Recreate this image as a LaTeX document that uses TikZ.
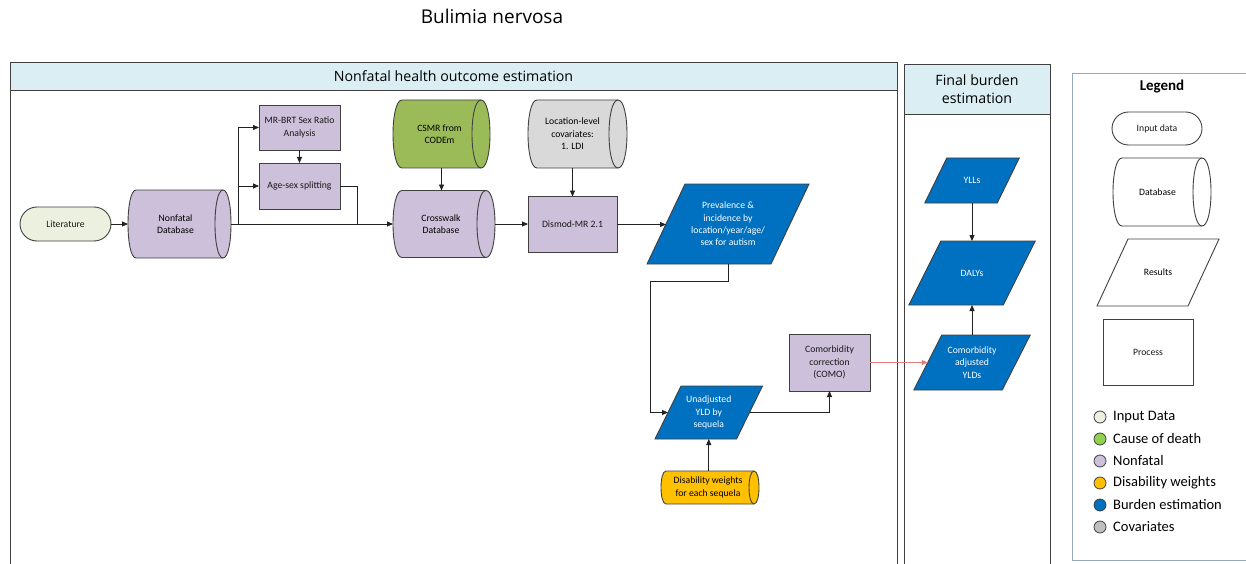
\documentclass[tikz,border=0pt]{standalone}
\usepackage{fontspec}
\setmainfont{Carlito}
\newfontfamily\headfont{Open Sans}
\usetikzlibrary{arrows.meta,calc}
\definecolor{hdr}{HTML}{DAEEF3}
\definecolor{litg}{HTML}{EBF1DE}
\definecolor{nfp}{HTML}{CCC0DA}
\definecolor{codg}{HTML}{9BBB59}
\definecolor{covg}{HTML}{D9D9D9}
\definecolor{burb}{HTML}{0070C0}
\definecolor{dwy}{HTML}{FFC000}
\definecolor{edge}{HTML}{404040}
\definecolor{lnk}{HTML}{222222}
\definecolor{redl}{HTML}{E07B7B}
\definecolor{legb}{HTML}{95A9C4}
\definecolor{cod2}{HTML}{92D050}
\definecolor{cov2}{HTML}{BFBFBF}
\tikzset{
  shapeline/.style={draw=edge, line width=0.9pt},
  proc/.style={shapeline, rectangle, align=center, inner sep=1pt, outer sep=0pt, text=black!90},
  term/.style={proc},
  hole/.style={rectangle, draw=none, inner sep=0pt, outer sep=0pt},
  lbl/.style={align=center, inner sep=0pt},
  arr/.style={draw=lnk, line width=0.8pt, -{Triangle[length=6pt,width=5pt]}},
  lnkline/.style={draw=lnk, line width=0.8pt},
  panel/.style={draw=edge, line width=0.9pt},
  dot/.style={circle, draw=edge, line width=0.8pt, minimum size=12pt, inner sep=0pt},
  legtxt/.style={anchor=west, inner sep=0pt, font=\fontsize{14.5}{17}\selectfont},
  headtxt/.style={align=center, inner sep=0pt, font=\headfont\fontsize{14.2}{18}\selectfont},
}
% name, cx, cy, w, h, r, fill, text dx, text
\newcommand\cylnode[9]{%
  \path[shapeline, fill=#7]
    ({#2-#4/2+#6},{#3-#5/2}) -- ({#2+#4/2-#6},{#3-#5/2})
    .. controls ({#2+#4/2+#6/3},{#3-#5/2}) and ({#2+#4/2+#6/3},{#3+#5/2}) .. ({#2+#4/2-#6},{#3+#5/2})
    -- ({#2-#4/2+#6},{#3+#5/2})
    .. controls ({#2-#4/2-#6/3},{#3+#5/2}) and ({#2-#4/2-#6/3},{#3-#5/2}) .. ({#2-#4/2+#6},{#3-#5/2}) -- cycle;
  \draw[shapeline] ({#2+#4/2-#6},{#3-#5/2})
    .. controls ({#2+#4/2-#6-4*#6/3},{#3-#5/2}) and ({#2+#4/2-#6-4*#6/3},{#3+#5/2}) .. ({#2+#4/2-#6},{#3+#5/2});
  \node[hole, minimum width=#4pt, minimum height=#5pt] (#1) at (#2,#3) {};
  \node[lbl] (#1-t) at ({#2+(#8)},#3) {#9};
}
% name, cx, cy, w (at mid height), h, slant, fill, text colour, text
\newcommand\paranode[9]{%
  \path[shapeline, fill=#7]
    ({#2-#4/2+#6/2},{#3-#5/2}) -- ({#2+#4/2+#6/2},{#3-#5/2})
    -- ({#2+#4/2-#6/2},{#3+#5/2}) -- ({#2-#4/2-#6/2},{#3+#5/2}) -- cycle;
  \node[hole, minimum width=#4pt, minimum height=#5pt] (#1) at (#2,#3) {};
  \node[lbl, text=#8] (#1-t) at (#2,#3) {#9};
}
\begin{document}
\begin{tikzpicture}[x=1pt, y=-1pt, font=\fontsize{9.7}{12.4}\selectfont]
\useasboundingbox (0,0) rectangle (1246,564);
\clip (0,0) rectangle (1246,564);
\fill[white] (0,0) rectangle (1246,564);

% title
\node[inner sep=0pt, font=\headfont\fontsize{19}{22}\selectfont] (title) at (492,16.5) {Bulimia nervosa};

% panels
\draw[panel] (10,62) rectangle (897,600);
\draw[panel, fill=hdr] (10,62) rectangle (897,90);
\node[headtxt] (h1) at (453.5,76) {Nonfatal health outcome estimation};
\draw[panel] (904,64) rectangle (1050,600);
\draw[panel, fill=hdr] (904,64) rectangle (1050,114);
\node[headtxt] (h2) at (977,89) {Final burden\\estimation};
\draw[draw=legb, line width=0.9pt] (1072,73) rectangle (1270,560);

% nonfatal panel nodes
\node[term, fill=litg, minimum width=91pt, minimum height=34pt, rounded corners=17pt] (lit) at (65.5,224) {Literature};
\cylnode{ndb}{179.5}{224}{103}{68}{8}{nfp}{-4}{Nonfatal\\Database}
\node[proc, fill=nfp, minimum width=81pt, minimum height=45pt] (mrbrt) at (299.5,127.5) {MR-BRT Sex Ratio\\Analysis};
\node[proc, fill=nfp, minimum width=81pt, minimum height=46pt] (asex) at (299.5,186) {Age-sex splitting};
\cylnode{csmr}{441.5}{134}{97}{68}{9}{codg}{-2}{CSMR from\\CODEm}
\cylnode{cw}{444}{224}{102}{67}{9}{nfp}{-3}{Crosswalk\\Database}
\cylnode{cov}{577.5}{134}{99}{68}{9}{covg}{-5}{Location-level\\covariates:\\1. LDI}
\node[proc, fill=nfp, minimum width=89pt, minimum height=56pt] (dismod) at (572.5,224.5) {Dismod-MR 2.1};
\paranode{prev}{728}{224}{124}{80}{38}{burb}{white}{Prevalence \&\\incidence by\\location/year/age/\\sex for autism}
\paranode{unadj}{708.75}{412.5}{81.5}{53}{26}{burb}{white}{Unadjusted\\YLD by\\sequela}
\cylnode{dw}{710}{487.5}{98}{33}{5}{dwy}{-2}{Disability weights\\for each sequela}
\node[proc, fill=nfp, minimum width=81pt, minimum height=57pt] (como) at (829.5,362.5) {Comorbidity\\correction\\(COMO)};

% final burden nodes
\paranode{ylls}{972}{180.5}{72.5}{45}{22}{burb}{white}{YLLs}
\paranode{dalys}{972}{273}{94.5}{64}{32}{burb}{white}{DALYs}
\paranode{adj}{972}{362.5}{88.5}{55}{28}{burb}{white}{Comorbidity\\adjusted\\YLDs}

% connectors
\draw[arr] (lit.east) -- (ndb.west);
\path (ndb.east) ++(7,0) coordinate (j1);
\coordinate (j2) at (357,224);
\draw[arr] (ndb.east) -- (ndb.east -| cw.west);
\draw[arr] (j1) |- (mrbrt.west);
\draw[arr] (j1 |- asex.west) -- (asex.west);
\draw[arr] (mrbrt.south) -- (asex.north);
\draw[lnkline] (asex.east) -| (j2);
\draw[arr] (csmr.south) -- (csmr.south |- cw.north);
\draw[arr] (dismod.north |- cov.south) -- (dismod.north);
\draw[arr] (cw.east) -- (cw.east -| dismod.west);
\draw[arr] (dismod.east) -- (dismod.east -| prev.west);
\coordinate (k) at (650,281);
\draw[arr] (prev.south) |- (k) |- (unadj.west);
\draw[arr] (unadj.south |- dw.north) -- (unadj.south);
\draw[arr] (unadj.east) -| (como.south);
\draw[arr, draw=redl, -{Triangle[length=6pt,width=5pt,fill=redl]}] (como.east) -- (como.east -| adj.west);
\draw[arr] (ylls.south) -- (dalys.north);
\draw[arr] (adj.north) -- (dalys.south);

% legend
\node[inner sep=0pt, font=\bfseries\fontsize{15}{18}\selectfont] (legt) at (1162,87) {Legend};
\node[term, fill=white, minimum width=90pt, minimum height=33pt, rounded corners=16.5pt] (lin) at (1157,128.5) {Input data};
\cylnode{ldb}{1162}{192}{98}{68}{9}{white}{-4.5}{Database}
\paranode{lres}{1158}{272.5}{91}{67}{31}{white}{black}{Results}
\node[proc, fill=white, minimum width=90pt, minimum height=66pt] (lproc) at (1148,352) {Process};

\node[dot, fill=litg] (c1) at (1100,417) {};
\node[dot, fill=cod2] (c2) at (1100,439) {};
\node[dot, fill=nfp]  (c3) at (1100,461) {};
\node[dot, fill=dwy]  (c4) at (1100,483) {};
\node[dot, fill=burb] (c5) at (1100,505) {};
\node[dot, fill=cov2] (c6) at (1100,527) {};
\node[legtxt] (t1) at (1113,417) {Input Data};
\node[legtxt] (t2) at (1113,439) {Cause of death};
\node[legtxt] (t3) at (1113,461) {Nonfatal};
\node[legtxt] (t4) at (1113,483) {Disability weights};
\node[legtxt] (t5) at (1113,505) {Burden estimation};
\node[legtxt] (t6) at (1113,527) {Covariates};
\end{tikzpicture}
\end{document}
